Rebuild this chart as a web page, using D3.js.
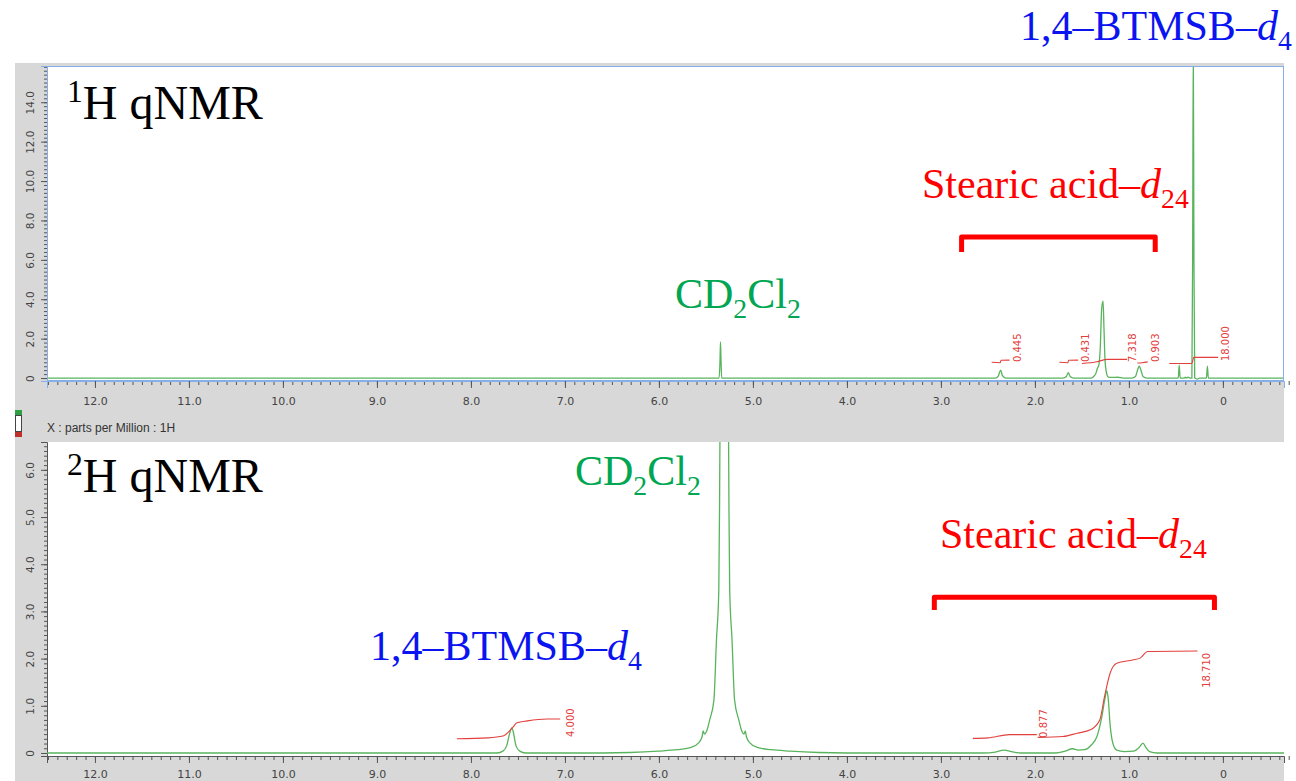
<!DOCTYPE html>
<html>
<head>
<meta charset="utf-8">
<script src="https://cdn.jsdelivr.net/npm/d3@7"></script>
<style>
body { margin: 0; background: #fff; }
svg { display: block; }
</style>
</head>
<body>
<script>
// spectra: [ppm, intensity]
var h1Spectrum = [
    [12.6, 0], [5.36, 0], [5.35, 0.9], [5.345, 1.83], [5.34, 1.0], [5.332, 0],
    [2.42, 0], [2.39, 0.1], [2.365, 0.4], [2.345, 0.12], [2.31, 0],
    [1.70, 0], [1.665, 0.08], [1.645, 0.27], [1.625, 0.08], [1.59, 0],
    [1.40, 0], [1.375, 0.08], [1.35, 0.25], [1.335, 0.5], [1.32, 0.66], [1.305, 1.5],
    [1.29, 3.5], [1.275, 3.9], [1.265, 2.5], [1.255, 1.0], [1.24, 0.3], [1.22, 0.05],
    [1.18, 0.03], [1.12, 0.04], [1.06, 0],
    [0.97, 0], [0.93, 0.08], [0.905, 0.45], [0.89, 0.6], [0.875, 0.45], [0.85, 0.08], [0.81, 0],
    [0.475, 0], [0.465, 0.65], [0.455, 0],
    [0.41, 0], [0.40, 0.05], [0.39, 0], [0.37, 0.04], [0.35, 0],
    [0.33, 0], [0.322, 6], [0.315, 17], [0.308, 6], [0.30, 0],
    [0.27, -0.05], [0.25, 0],
    [0.175, 0], [0.165, 0.6], [0.155, 0],
    [-0.7, 0]
];

var h2Spectrum = [
    [12.6, 0], [7.72, 0], [7.66, 0.04], [7.62, 0.15], [7.59, 0.4], [7.565, 0.53], [7.55, 0.45],
    [7.52, 0.15], [7.48, 0.04], [7.42, 0],
    [6.6, 0], [6.305, 0.01], [6.005, 0.04], [5.805, 0.07], [5.655, 0.12], [5.575, 0.22],
    [5.54, 0.35], [5.53, 0.47], [5.515, 0.40], [5.495, 0.45], [5.46, 0.70], [5.415, 1.12],
    [5.388, 2.39], [5.363, 3.45], [5.355, 5.2], [5.35, 7], [5.335, 12], [5.305, 15],
    [5.275, 12], [5.26, 7], [5.255, 5.2], [5.247, 3.45], [5.222, 2.39], [5.195, 1.12],
    [5.15, 0.70], [5.115, 0.45], [5.095, 0.40], [5.08, 0.47], [5.07, 0.35], [5.035, 0.22],
    [4.955, 0.12], [4.805, 0.07], [4.605, 0.04], [4.305, 0.01], [4.0, 0],
    [2.55, 0], [2.42, 0.02], [2.33, 0.06], [2.25, 0.03], [2.15, 0],
    [1.78, 0], [1.68, 0.04], [1.60, 0.09], [1.54, 0.06], [1.47, 0.07], [1.40, 0.17],
    [1.34, 0.35], [1.29, 0.75], [1.255, 1.15], [1.235, 1.32], [1.22, 1.15], [1.20, 0.6],
    [1.17, 0.2], [1.13, 0.06], [1.05, 0.03], [0.95, 0.04], [0.89, 0.12], [0.85, 0.21],
    [0.82, 0.12], [0.78, 0.03], [0.70, 0], [-0.7, 0]
];

// integral curves [ppm, intensity] and their labels
var h1IntegralCurves = [
    [[2.46, 0.80], [2.37, 0.78], [2.36, 0.90], [2.27, 0.91]],
    [[1.74, 0.80], [1.65, 0.78], [1.64, 0.90], [1.54, 0.91]],
    [[1.50, 0.74], [1.34, 0.83], [1.23, 0.95], [1.02, 0.95]],
    [[0.91, 0.76], [0.86, 0.78], [0.80, 0.82]],
    [[0.57, 0.74], [0.33, 0.74], [0.31, 1.05], [0.05, 1.05]]
];
var h1IntegralLabels = ['0.445', '0.431', '7.318', '0.903', '18.000'];
var h1LabelPos = [[2.19, 0.81], [1.46, 0.81], [0.96, 0.81], [0.72, 0.81], [-0.03, 0.86]];

var h2IntegralCurves = [
    [[8.15, 0.30], [7.82, 0.32], [7.66, 0.36], [7.56, 0.53], [7.51, 0.64], [7.40, 0.68], [7.19, 0.72], [7.05, 0.72]],
    [[2.66, 0.31], [2.50, 0.32], [2.27, 0.39], [1.98, 0.39]],
    [[1.97, 0.33], [1.70, 0.35], [1.55, 0.42], [1.41, 0.49], [1.31, 0.70], [1.26, 1.19], [1.20, 1.69],
     [1.13, 1.90], [0.96, 1.97], [0.88, 2.01], [0.80, 2.15], [0.27, 2.16]]
];
var h2IntegralLabels = ['4.000', '0.877', '18.710'];
var h2LabelPos = [[6.94, 0.34], [1.91, 0.32], [0.17, 1.38]];

var xTicks = [12, 11, 10, 9, 8, 7, 6, 5, 4, 3, 2, 1, 0];
var h1YTicks = [0, 2, 4, 6, 8, 10, 12, 14];
var h2YTicks = [0, 1, 2, 3, 4, 5, 6];

var W = 1296, H = 781;
var green = '#58b45c', integralRed = '#e2403c';

var svg = d3.select('body').append('svg').attr('width', W).attr('height', H);

var x = d3.scaleLinear().domain([12.51, -0.65]).range([47, 1284]);
var yTop = d3.scaleLinear().domain([-0.15, 15.84]).range([381, 66]);
var yBot = d3.scaleLinear().domain([-0.064, 6.59]).range([756, 442]);

// grey window background
svg.append('rect').attr('x', 15).attr('y', 63).attr('width', 1269).attr('height', 718).attr('fill', '#d8d8d8');

function fmt(d) { return d === 0 ? '0' : d.toFixed(1); }

function drawPanel(id, y, spectrum, curves, labels, labelPos, yTicks, minorStep, frameColor, labelPad) {
    var r = y.range();
    var g = svg.append('g');
    g.append('rect').attr('x', 47).attr('y', r[1]).attr('width', 1237).attr('height', r[0] - r[1])
        .attr('fill', '#fff');
    svg.append('clipPath').attr('id', id).append('rect')
        .attr('x', 47).attr('y', r[1]).attr('width', 1237).attr('height', r[0] - r[1]);

    // x axis: minor then major
    var minorX = d3.range(125, -66, -1).map(function (v) { return v / 10; });
    g.append('g').attr('transform', 'translate(0,' + r[0] + ')')
        .call(d3.axisBottom(x).tickValues(minorX).tickSize(4).tickFormat(''))
        .call(function (s) { s.select('.domain').remove(); s.selectAll('line').attr('stroke', '#555'); });
    var ax = g.append('g').attr('transform', 'translate(0,' + r[0] + ')')
        .call(d3.axisBottom(x).tickValues(xTicks).tickSize(7).tickPadding(labelPad).tickFormat(fmt));
    ax.select('.domain').attr('stroke', frameColor);
    ax.selectAll('line').attr('stroke', '#555');
    ax.selectAll('text').attr('fill', '#444').style('font', '11px "DejaVu Sans"');

    // y axis
    var top = y.domain()[1];
    var minorY = d3.range(0, Math.floor(top / minorStep) + 1).map(function (i) { return +(i * minorStep).toFixed(2); });
    g.append('g').attr('transform', 'translate(47,0)')
        .call(d3.axisLeft(y).tickValues(minorY).tickSize(3).tickFormat(''))
        .call(function (s) { s.select('.domain').remove(); s.selectAll('line').attr('stroke', '#555'); });
    var ay = g.append('g').attr('transform', 'translate(47,0)')
        .call(d3.axisLeft(y).tickValues(yTicks).tickSize(6).tickFormat(fmt));
    ay.select('.domain').attr('stroke', frameColor);
    ay.selectAll('line').attr('stroke', '#555');
    ay.selectAll('text').attr('x', 0).attr('dy', '0.35em').attr('text-anchor', 'middle')
        .attr('transform', 'translate(-17,0) rotate(-90)')
        .attr('fill', '#444').style('font', '10.5px "DejaVu Sans"');

    var line = d3.line().curve(d3.curveMonotoneX)
        .x(function (d) { return x(d[0]); }).y(function (d) { return y(d[1]); });
    var pg = g.append('g').attr('clip-path', 'url(#' + id + ')');
    pg.append('path').datum(spectrum).attr('d', line)
        .attr('fill', 'none').attr('stroke', green).attr('stroke-width', 1.3);
    pg.selectAll('.integral').data(curves).enter().append('path').attr('class', 'integral')
        .attr('d', line).attr('fill', 'none').attr('stroke', integralRed).attr('stroke-width', 1.1);
    pg.selectAll('.ilabel').data(labels).enter().append('text').attr('class', 'ilabel')
        .attr('transform', function (d, i) {
            return 'translate(' + x(labelPos[i][0]) + ',' + y(labelPos[i][1]) + ') rotate(-90)';
        })
        .attr('dy', '0.35em').attr('fill', integralRed).style('font', '10px "DejaVu Sans"')
        .text(function (d) { return d; });
    return g;
}

drawPanel('clipTop', yTop, h1Spectrum, h1IntegralCurves, h1IntegralLabels, h1LabelPos, h1YTicks, 0.2, '#86aee8', 9);
drawPanel('clipBot', yBot, h2Spectrum, h2IntegralCurves, h2IntegralLabels, h2LabelPos, h2YTicks, 0.1, '#555', 7);

// blue frame of the selected (top) panel
svg.append('rect').attr('x', 47.5).attr('y', 66.5).attr('width', 1236).attr('height', 314)
    .attr('fill', 'none').attr('stroke', '#86aee8');

// axis caption and small marker between the panels
svg.append('text').attr('x', 47).attr('y', 432).attr('fill', '#333')
    .style('font', '12px "Liberation Sans"').text('X : parts per Million : 1H');
svg.append('rect').attr('x', 15).attr('y', 410).attr('width', 7).attr('height', 5).attr('fill', '#2ea043');
svg.append('rect').attr('x', 15.5).attr('y', 415.5).attr('width', 6).attr('height', 16).attr('fill', '#fff').attr('stroke', '#444');
svg.append('rect').attr('x', 15).attr('y', 432).attr('width', 7).attr('height', 5).attr('fill', '#c0302c');

// serif annotations
function richText(px, py, size, color, parts) {
    var t = svg.append('text').attr('x', px).attr('y', py).attr('fill', color)
        .style('font-family', '"Liberation Serif", "Times New Roman", serif').style('font-size', size + 'px');
    var shift = 0;
    parts.forEach(function (p) {
        var want = p.sub ? size * 0.24 : p.sup ? -size * 0.36 : 0;
        var s = t.append('tspan').attr('dy', want - shift).text(p.t);
        if (p.sub || p.sup) s.style('font-size', (size * 0.66) + 'px');
        if (p.it) s.style('font-style', 'italic');
        shift = want;
    });
}

richText(67, 119, 48, '#000', [{ t: '1', sup: true }, { t: 'H qNMR' }]);
richText(67, 492, 48, '#000', [{ t: '2', sup: true }, { t: 'H qNMR' }]);

var blue = '#0a14f0', red = '#ff0000', textGreen = '#00a651';
richText(1020, 40, 42, blue, [{ t: '1,4–BTMSB–' }, { t: 'd', it: true }, { t: '4', sub: true }]);
richText(922, 198, 42, red, [{ t: 'Stearic acid–' }, { t: 'd', it: true }, { t: '24', sub: true }]);
richText(675, 308, 42, textGreen, [{ t: 'CD' }, { t: '2', sub: true }, { t: 'Cl' }, { t: '2', sub: true }]);

richText(575, 485, 42, textGreen, [{ t: 'CD' }, { t: '2', sub: true }, { t: 'Cl' }, { t: '2', sub: true }]);
richText(940, 548, 42, red, [{ t: 'Stearic acid–' }, { t: 'd', it: true }, { t: '24', sub: true }]);
richText(370, 660, 42, blue, [{ t: '1,4–BTMSB–' }, { t: 'd', it: true }, { t: '4', sub: true }]);

// red brackets over the stearic acid region
function bracket(p0, p1, y, yv0, yv1) {
    svg.append('path')
        .attr('d', 'M' + x(p0) + ',' + y(yv1) + 'V' + y(yv0) + 'H' + x(p1) + 'V' + y(yv1))
        .attr('fill', 'none').attr('stroke', red).attr('stroke-width', 5).attr('stroke-linejoin', 'round');
}
bracket(2.78, 0.72, yTop, 7.16, 6.4);
bracket(3.07, 0.09, yBot, 3.3, 3.03);
</script>
</body>
</html>
